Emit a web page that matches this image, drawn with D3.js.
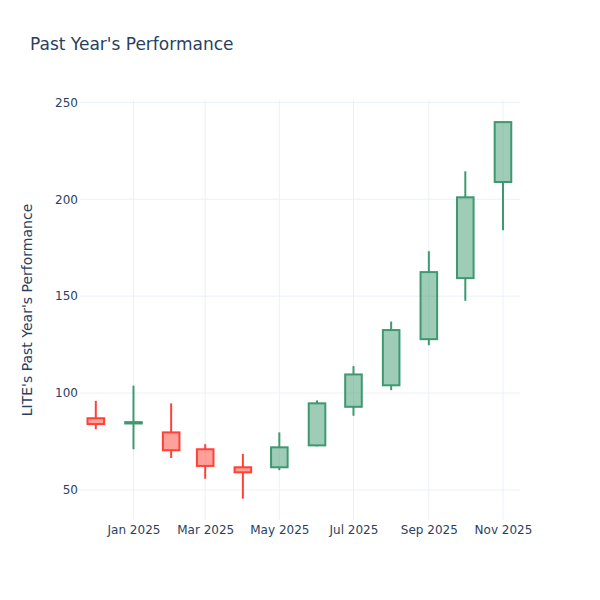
<!DOCTYPE html>
<html>
<head>
<meta charset="utf-8">
<script src="https://cdn.jsdelivr.net/npm/d3@7"></script>
<style>
  body { margin: 0; background: #fff; }
  svg text { font-family: "DejaVu Sans", Verdana, sans-serif; fill: #2a3f5f; }
</style>
</head>
<body>
<div id="chart"></div>
<script>
// Monthly candles
var months = ["2024-12-01", "2025-01-01", "2025-02-01", "2025-03-01", "2025-04-01", "2025-05-01",
              "2025-06-01", "2025-07-01", "2025-08-01", "2025-09-01", "2025-10-01", "2025-11-01"];
var open  = [87.0, 84.3, 79.7, 71.0, 61.7, 61.7, 73.0, 92.9, 104.0, 127.8, 159.3, 208.9];
var high  = [96.0, 103.8, 94.7, 73.6, 68.6, 79.7, 96.2, 113.9, 136.9, 173.2, 214.4, 239.8];
var low   = [81.3, 71.0, 66.5, 55.8, 45.5, 60.2, 72.5, 88.3, 101.5, 124.7, 147.6, 184.0];
var close = [84.0, 85.0, 70.5, 62.4, 59.1, 72.0, 94.7, 109.6, 132.5, 162.4, 201.0, 239.8];
var yTicks = [50, 100, 150, 200, 250];

var width = 600, height = 600;
var margin = { top: 100, right: 80, bottom: 80, left: 80 };

var parse = d3.utcParse("%Y-%m-%d");
var candles = months.map(function(m, i) {
    return { date: parse(m), open: open[i], high: high[i], low: low[i], close: close[i] };
});

var svg = d3.select("#chart").append("svg")
    .attr("width", width)
    .attr("height", height);

var x = d3.scaleUtc()
    .domain([parse("2024-11-18"), parse("2025-11-15")])
    .range([margin.left, width - margin.right]);

var y = d3.scaleLinear()
    .domain([34.5, 251.2])
    .range([height - margin.bottom, margin.top]);

// Grid
var xTickVals = x.ticks(d3.utcMonth.every(2));
svg.append("g").selectAll("line")
    .data(xTickVals)
    .enter().append("line")
    .attr("x1", function(d) { return x(d); })
    .attr("x2", function(d) { return x(d); })
    .attr("y1", margin.top)
    .attr("y2", height - margin.bottom)
    .style("stroke", "#EBF0F8")
    .style("stroke-width", 1);

svg.append("g").selectAll("line")
    .data(yTicks)
    .enter().append("line")
    .attr("x1", margin.left)
    .attr("x2", width - margin.right)
    .attr("y1", function(d) { return y(d); })
    .attr("y2", function(d) { return y(d); })
    .style("stroke", "#EBF0F8")
    .style("stroke-width", 1);

// Axes (labels only)
var xAxis = svg.append("g")
    .attr("transform", "translate(0," + (height - margin.bottom) + ")")
    .call(d3.axisBottom(x).tickValues(xTickVals).tickFormat(d3.utcFormat("%b %Y")).tickSize(0).tickPadding(5));
xAxis.select(".domain").remove();
xAxis.selectAll("text").style("font-size", "12px").style("fill", "#2a3f5f");

var yAxis = svg.append("g")
    .attr("transform", "translate(" + margin.left + ",0)")
    .call(d3.axisLeft(y).tickValues(yTicks).tickSize(0).tickPadding(2));
yAxis.select(".domain").remove();
yAxis.selectAll("text").style("font-size", "12px").style("fill", "#2a3f5f");

// Candles
var boxHalf = (x(parse("2025-01-01")) - x(parse("2024-12-01"))) * 0.22;
var up = "#3D9970", down = "#FF4136";

var g = svg.append("g").attr("class", "candles");
candles.forEach(function(c) {
    var inc = c.close > c.open;
    var col = inc ? up : down;
    var cx = x(c.date);
    var top = y(Math.max(c.open, c.close));
    var bot = y(Math.min(c.open, c.close));

    g.append("line")
        .attr("x1", cx).attr("x2", cx)
        .attr("y1", y(c.high)).attr("y2", top)
        .style("stroke", col).style("stroke-width", 2);
    g.append("line")
        .attr("x1", cx).attr("x2", cx)
        .attr("y1", bot).attr("y2", y(c.low))
        .style("stroke", col).style("stroke-width", 2);

    g.append("rect")
        .attr("x", cx - boxHalf)
        .attr("y", top)
        .attr("width", boxHalf * 2)
        .attr("height", Math.max(bot - top, 0.5))
        .style("fill", col)
        .style("fill-opacity", 0.5)
        .style("stroke", col)
        .style("stroke-width", 2);
});

// Titles
svg.append("text")
    .attr("x", 30)
    .attr("y", 50)
    .style("font-size", "17px")
    .text("Past Year's Performance");

svg.append("text")
    .attr("transform", "translate(32," + ((margin.top + height - margin.bottom) / 2) + ") rotate(-90)")
    .attr("text-anchor", "middle")
    .style("font-size", "14px")
    .text("LITE's Past Year's Performance");
</script>
</body>
</html>
